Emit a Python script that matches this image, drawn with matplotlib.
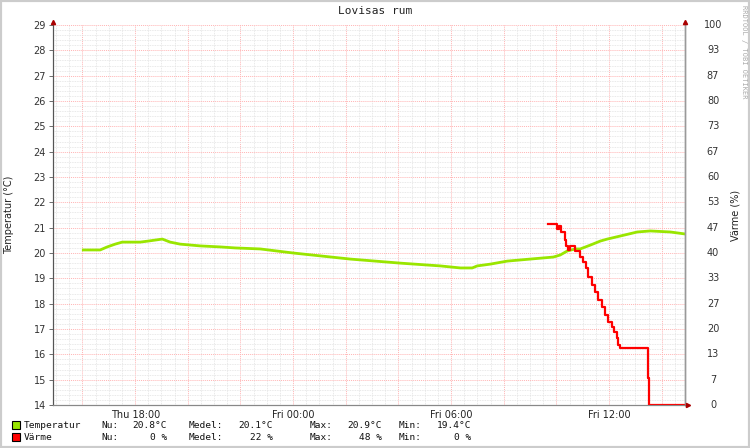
import matplotlib
matplotlib.use("Agg")
import matplotlib.pyplot as plt
from matplotlib.patches import Rectangle
from matplotlib.ticker import MultipleLocator, FixedLocator

# time in hours from Thu 00:00
temp_hours = [16.03, 16.67, 16.94, 17.24, 17.51, 18.19, 18.49, 18.76, 19.03, 19.33,
              19.71, 20.47, 21.23, 21.80, 22.75, 24.00, 26.17, 28.07, 29.59, 30.35,
              30.80, 30.99, 31.48, 32.13, 33.00, 33.88, 34.14, 34.41, 34.71, 34.90,
              35.28, 35.66, 35.93, 36.42, 37.07, 37.56, 38.32, 38.89]
temp_values = [20.12, 20.12, 20.24, 20.35, 20.43, 20.43, 20.47, 20.51, 20.55, 20.43,
               20.35, 20.28, 20.24, 20.20, 20.16, 20.00, 19.76, 19.60, 19.49, 19.41,
               19.41, 19.49, 19.56, 19.68, 19.76, 19.84, 19.92, 20.08, 20.16, 20.16,
               20.31, 20.47, 20.55, 20.67, 20.83, 20.87, 20.83, 20.75]

heat_hours = [33.69, 34.03, 34.10, 34.18, 34.33, 34.37, 34.45, 34.52, 34.71, 34.90,
              35.01, 35.13, 35.20, 35.36, 35.47, 35.58, 35.74, 35.85, 35.96, 36.12,
              36.19, 36.31, 36.34, 36.42, 37.48, 37.52, 38.89]
heat_values = [47.6, 46.3, 47.1, 45.5, 43.4, 41.8, 40.8, 41.8, 40.5, 39.0,
               37.6, 36.0, 33.7, 31.6, 29.7, 27.6, 25.8, 23.7, 21.8, 20.5,
               19.2, 17.6, 15.8, 15.0, 7.1, 0.0, 0.0]

tick_hours = [18, 24, 30, 36]
tick_labels = ["Thu 18:00", "Fri 00:00", "Fri 06:00", "Fri 12:00"]

left_ticks = list(range(14, 30))
right_labels = [str(round((t - 14) / 15 * 100)) for t in left_ticks]

W, H = 750, 448
fig = plt.figure(figsize=(7.5, 4.48), dpi=100)
fig.patch.set_facecolor("white")

def px(x, y):
    return x / W, 1 - y / H

ax = fig.add_axes([53 / W, 43 / H, (685 - 53) / W, (405 - 25) / H])
ax.set_xlim(14.88, 38.88)
ax.set_ylim(14, 29)

# grid
ax.xaxis.set_minor_locator(MultipleLocator(0.5))
ax.yaxis.set_minor_locator(MultipleLocator(0.2))
ax.grid(which="minor", color="#e2e2e2", linestyle=(0, (1, 1)), linewidth=0.6)
ax.xaxis.set_major_locator(FixedLocator([h for h in range(16, 39, 2)]))
ax.yaxis.set_major_locator(MultipleLocator(1))
ax.grid(which="major", color="#ffb4b4", linestyle=(0, (1, 1)), linewidth=0.7)
ax.set_axisbelow(True)

ax.plot(temp_hours, temp_values, color="#99e600", linewidth=2)

ax2 = ax.twinx()
ax2.set_ylim(0, 100)
ax2.step(heat_hours, heat_values, where="post", color="#ff0000", linewidth=1.6)
ax2.set_yticks([])

for a in (ax, ax2):
    a.spines["top"].set_visible(False)
    a.spines["left"].set_color("#555555")
    a.spines["bottom"].set_color("#888888")
    a.spines["right"].set_color("#999999")
    a.spines["right"].set_linewidth(1.0)

ax.set_yticks(left_ticks)
ax.set_yticklabels([str(t) for t in left_ticks])
ax.tick_params(axis="y", which="major", length=3, width=0.6, color="#555555",
               labelsize=7, labelcolor="#333333", pad=2)
ax.tick_params(axis="y", which="minor", length=0)
ax.tick_params(axis="x", which="both", length=0, labelbottom=False)

for h, lab in zip(tick_hours, tick_labels):
    ax.text(h, -0.012, lab, transform=ax.get_xaxis_transform(), ha="center", va="top",
            fontsize=7, color="#222222", family="DejaVu Sans")

# right side labels (same pixel positions as left ticks)
for t, lab in zip(left_ticks, right_labels):
    fig.text(*px(713, 405 - (t - 14) * 380 / 15), lab, ha="center", va="center",
             fontsize=7, color="#333333")

# axis arrows
fig.add_artist(plt.Line2D([53 / W], [1 - 22 / H], marker="^", color="#aa0000", markersize=3))
fig.add_artist(plt.Line2D([685 / W], [1 - 22 / H], marker="^", color="#aa0000", markersize=3))
fig.add_artist(plt.Line2D([688 / W], [1 - 405 / H], marker=">", color="#aa0000", markersize=3))

# titles / labels
fig.text(*px(375, 11), "Lovisas rum", ha="center", va="center", fontsize=8,
         family="DejaVu Sans Mono", color="#222222")
fig.text(*px(9, 215), "Temperatur (°C)", rotation=90, ha="center", va="center",
         fontsize=7, color="#222222")
fig.text(*px(735, 215), "Värme (%)", rotation=90, ha="center", va="center",
         fontsize=7, color="#222222")
fig.text(*px(744, 5), "RRDTOOL / TOBI OETIKER", rotation=270, ha="center", va="top",
         fontsize=5, color="#aaaaaa", family="DejaVu Sans Mono")

# legend
mono = dict(fontsize=6.8, family="DejaVu Sans Mono", color="#111111", va="center")
rows = [
    ("#99e600", "Temperatur", "20.8°C", "20.1°C", "20.9°C", "19.4°C", 425),
    ("#ff0000", "Värme", "0 %", "22 %", "48 %", "0 %", 437),
]
for col, name, nu, medel, mx, mn, y in rows:
    fig.add_artist(Rectangle(px(12, y + 4), 8 / W, 8 / H, facecolor=col,
                             edgecolor="black", linewidth=0.8))
    fig.text(*px(24, y), name, ha="left", **mono)
    fig.text(*px(101, y), "Nu:", ha="left", **mono)
    fig.text(*px(167, y), nu, ha="right", **mono)
    fig.text(*px(189, y), "Medel:", ha="left", **mono)
    fig.text(*px(273, y), medel, ha="right", **mono)
    fig.text(*px(310, y), "Max:", ha="left", **mono)
    fig.text(*px(382, y), mx, ha="right", **mono)
    fig.text(*px(399, y), "Min:", ha="left", **mono)
    fig.text(*px(471, y), mn, ha="right", **mono)

# image frame
fig.add_artist(Rectangle((0, 0), 1, 1, transform=fig.transFigure, fill=False,
                         edgecolor="#cccccc", linewidth=3))

fig.savefig("out.png", dpi=100)
